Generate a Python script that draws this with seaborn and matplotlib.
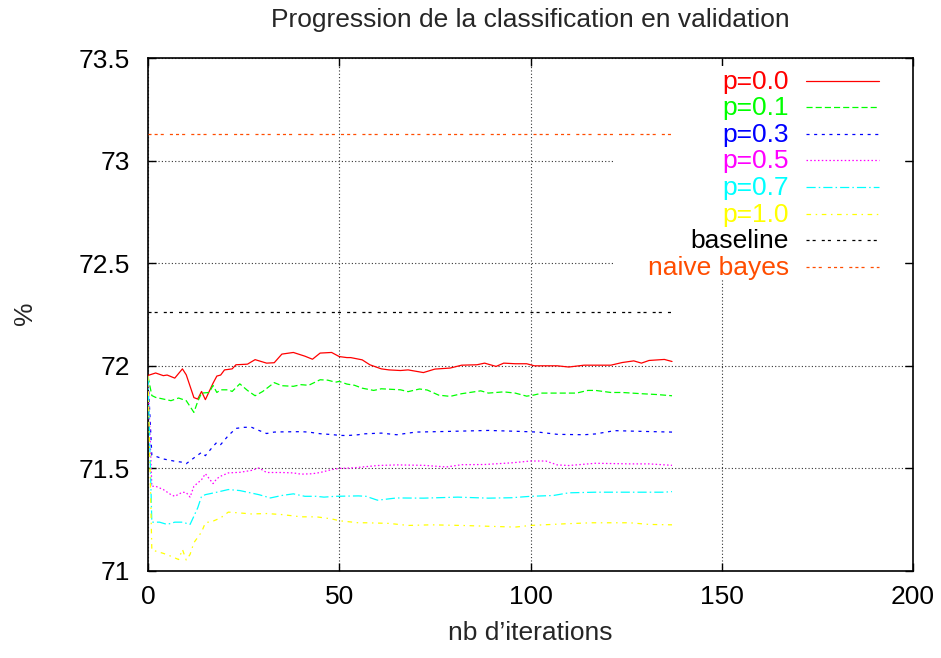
import matplotlib
matplotlib.use("Agg")
import matplotlib.pyplot as plt
from matplotlib.patches import Rectangle
import seaborn as sns
import pandas as pd

# ---- data -------------------------------------------------------------
it_p00 = [0, 2, 4, 5, 7, 9, 10, 12, 13, 14, 15, 17, 18, 19, 20, 22, 23, 26, 28, 31,
          33, 35, 38, 41, 43, 45, 48, 50, 52, 53, 56, 58, 61, 63, 66, 68, 72, 75, 79,
          82, 86, 88, 91, 93, 96, 99, 101, 104, 107, 110, 114, 117, 121, 124, 127,
          129, 131, 135, 137]
val_p00 = [71.953, 71.965, 71.952, 71.955, 71.940, 71.985, 71.956, 71.845, 71.838,
           71.875, 71.835, 71.915, 71.950, 71.955, 71.980, 71.985, 72.005, 72.008,
           72.030, 72.013, 72.015, 72.057, 72.065, 72.047, 72.032, 72.062, 72.065,
           72.045, 72.040, 72.040, 72.029, 72.005, 71.985, 71.980, 71.977, 71.980,
           71.967, 71.984, 71.989, 72.003, 72.005, 72.013, 71.997, 72.013, 72.010,
           72.010, 72.000, 72.000, 72.000, 71.994, 72.003, 72.003, 72.003, 72.016,
           72.024, 72.013, 72.026, 72.031, 72.021]

it_p01 = [0, 1, 2, 4, 6, 8, 10, 12, 13, 14, 16, 17, 18, 19, 21, 22, 24, 26, 28, 30,
          33, 35, 38, 40, 42, 45, 47, 49, 50, 52, 54, 56, 59, 61, 66, 68, 71, 73, 76,
          79, 82, 87, 89, 93, 96, 99, 101, 103, 109, 112, 115, 117, 121, 124, 129,
          133, 137]
val_p01 = [71.948, 71.855, 71.846, 71.838, 71.830, 71.843, 71.830, 71.773, 71.826,
           71.867, 71.870, 71.904, 71.870, 71.883, 71.883, 71.875, 71.912, 71.880,
           71.854, 71.875, 71.918, 71.903, 71.900, 71.908, 71.905, 71.932, 71.930,
           71.920, 71.924, 71.911, 71.905, 71.891, 71.880, 71.888, 71.883, 71.874,
           71.887, 71.882, 71.857, 71.851, 71.864, 71.878, 71.867, 71.873, 71.867,
           71.852, 71.858, 71.867, 71.867, 71.867, 71.880, 71.880, 71.870, 71.870,
           71.864, 71.860, 71.854]

it_p03 = [0, 1, 2, 4, 7, 9, 10, 12, 14, 15, 17, 18, 19, 21, 23, 25, 27, 29, 31, 33,
          35, 40, 42, 45, 48, 50, 52, 55, 56, 61, 65, 70, 78, 89, 96, 102, 107, 114,
          117, 122, 130, 137]
val_p03 = [71.950, 71.565, 71.559, 71.546, 71.535, 71.530, 71.523, 71.551, 71.578,
           71.562, 71.607, 71.627, 71.616, 71.660, 71.695, 71.700, 71.701, 71.685,
           71.670, 71.677, 71.678, 71.679, 71.677, 71.669, 71.665, 71.661, 71.660,
           71.664, 71.668, 71.672, 71.664, 71.677, 71.680, 71.685, 71.681, 71.677,
           71.666, 71.664, 71.668, 71.684, 71.680, 71.677]

it_p05 = [0, 1, 2, 4, 6, 7, 9, 10, 11, 12, 14, 15, 17, 18, 19, 21, 24, 27, 29, 31,
          35, 38, 40, 43, 45, 48, 50, 53, 55, 60, 65, 72, 78, 82, 88, 95, 100, 104,
          107, 110, 117, 126, 131, 137]
val_p05 = [71.950, 71.413, 71.413, 71.397, 71.372, 71.364, 71.384, 71.382, 71.360,
           71.413, 71.445, 71.474, 71.426, 71.450, 71.462, 71.478, 71.481, 71.490,
           71.502, 71.480, 71.480, 71.478, 71.472, 71.474, 71.480, 71.494, 71.500,
           71.502, 71.505, 71.514, 71.517, 71.515, 71.507, 71.518, 71.519, 71.527,
           71.536, 71.536, 71.517, 71.514, 71.525, 71.522, 71.522, 71.515]

it_p07 = [0, 1, 3, 5, 7, 9, 11, 12, 13, 14, 15, 18, 21, 24, 27, 29, 32, 35, 38, 41,
          44, 46, 49, 55, 57, 60, 65, 72, 81, 89, 95, 100, 106, 110, 117, 126, 135,
          137]
val_p07 = [71.950, 71.238, 71.238, 71.227, 71.238, 71.238, 71.227, 71.267, 71.308,
           71.364, 71.372, 71.384, 71.397, 71.392, 71.380, 71.372, 71.356, 71.368,
           71.376, 71.364, 71.364, 71.360, 71.364, 71.366, 71.364, 71.345, 71.356,
           71.355, 71.360, 71.355, 71.357, 71.364, 71.368, 71.381, 71.384, 71.384,
           71.384, 71.387]

it_p10 = [0, 1, 2, 4, 6, 8, 9, 10, 11, 12, 14, 15, 17, 19, 21, 24, 27, 31, 35, 40,
          44, 48, 50, 55, 57, 63, 68, 74, 82, 89, 96, 100, 109, 116, 122, 126, 131,
          137]
val_p10 = [71.950, 71.102, 71.097, 71.086, 71.072, 71.056, 71.105, 71.053, 71.081,
           71.138, 71.190, 71.235, 71.243, 71.259, 71.287, 71.283, 71.278, 71.280,
           71.275, 71.264, 71.264, 71.254, 71.245, 71.235, 71.235, 71.232, 71.222,
           71.225, 71.222, 71.218, 71.214, 71.222, 71.230, 71.235, 71.235, 71.235,
           71.227, 71.225]

# constant reference scores over the same run
ref_iters = [0, 137]
baseline_score = 72.26
naive_bayes_score = 73.13

labels = ["p=0.0", "p=0.1", "p=0.3", "p=0.5", "p=0.7", "p=1.0", "baseline", "naive bayes"]
xticks = [0, 50, 100, 150, 200]
yticks = [71, 71.5, 72, 72.5, 73, 73.5]

# ---- styles (postscript-like line types) -------------------------------
colors = ["#ff0000", "#00ff00", "#0000ff", "#ff00ff", "#00ffff", "#ffff00",
          "#000000", "#ff4d00"]
u = 1.1
dashes = [
    "-",
    (0, (4 * u, 2 * u)),
    (0, (2 * u, 3 * u)),
    (0, (1 * u, 1.5 * u)),
    (0, (6 * u, 2 * u, 1 * u, 2 * u)),
    (0, (3 * u, 3 * u, 1 * u, 3 * u)),
    (0, (2 * u, 2 * u, 2 * u, 4 * u)),
    (0, (2 * u, 2 * u, 2 * u, 2 * u, 2 * u, 4 * u)),
]

sns.set_style("ticks")
plt.rcParams["font.family"] = ["Liberation Sans", "DejaVu Sans"]
plt.rcParams["lines.scale_dashes"] = False
FS = 19

fig = plt.figure(figsize=(9.41, 6.58), dpi=100)
ax = fig.add_axes([148 / 941, 1 - 571 / 658, 765 / 941, 513 / 658])

series = [
    (it_p00, val_p00), (it_p01, val_p01), (it_p03, val_p03), (it_p05, val_p05),
    (it_p07, val_p07), (it_p10, val_p10),
    (ref_iters, [baseline_score] * len(ref_iters)),
    (ref_iters, [naive_bayes_score] * len(ref_iters)),
]

for (xs, ys), c, ls in zip(series, colors, dashes):
    df = pd.DataFrame({"iter": xs, "score": ys})
    sns.lineplot(data=df, x="iter", y="score", ax=ax, color=c, linestyle=ls,
                 linewidth=0.9, estimator=None, sort=False, zorder=3)

ax.set_xlim(0, 200)
ax.set_ylim(71, 73.5)
ax.set_xticks(xticks)
ax.set_xticklabels([str(t) for t in xticks])
ax.set_yticks(yticks)
ax.set_yticklabels([f"{t:g}" for t in yticks])

# dotted grid under a blank key area
ax.set_axisbelow(True)
ax.grid(True, color="#333333", linestyle=(0, (0.8, 1.6)), linewidth=0.8)
ax.add_patch(Rectangle((0.609, 0.567), 0.381, 0.418, transform=ax.transAxes,
                       facecolor="white", edgecolor="none", zorder=1))

for sp in ax.spines.values():
    sp.set_linewidth(1.2)
    sp.set_color("black")
    sp.set_visible(True)
ax.tick_params(direction="in", length=6, width=1.0, top=True, right=True,
               labelsize=FS, colors="black")
ax.tick_params(axis="x", pad=10)
ax.tick_params(axis="y", pad=13)

ax.set_xlabel("nb d\u2019iterations", fontsize=FS, labelpad=9)
ax.set_ylabel("%", fontsize=FS)
ax.yaxis.set_label_coords(-0.145, 0.503)
ax.set_title("Progression de la classification en validation", fontsize=FS, pad=22)

# key: right-aligned labels followed by line samples
row0 = 0.956
step = 0.0519
for k, (lab, c, ls) in enumerate(zip(labels, colors, dashes)):
    y = row0 - k * step
    ax.text(0.838, y - 0.0155, lab, transform=ax.transAxes, ha="right",
            va="baseline", color=c, fontsize=FS, zorder=4)
    ax.plot([0.860, 0.9556], [y, y], transform=ax.transAxes, color=c,
            linestyle=ls, linewidth=0.9, zorder=4)

fig.savefig("out.png", dpi=100)
